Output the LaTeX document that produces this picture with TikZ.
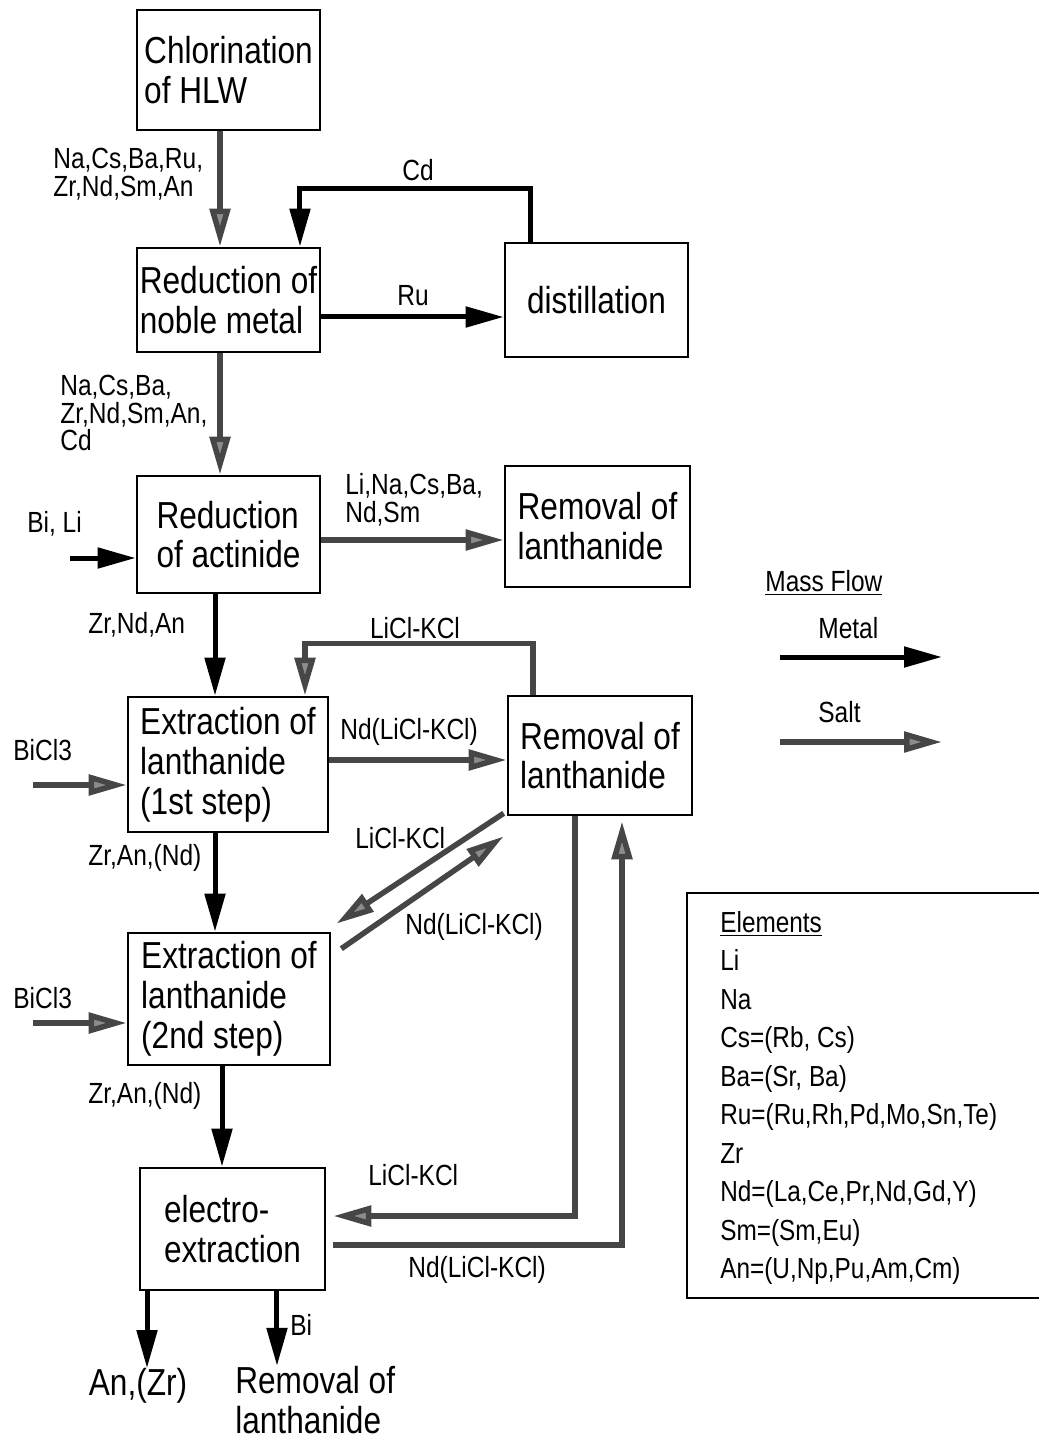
\documentclass[tikz,border=0pt]{standalone}
\usepackage{fontspec}
\setmainfont{Liberation Sans}[FakeStretch=0.84]
\usepackage{tikz}
\usetikzlibrary{arrows.meta}
\definecolor{saltline}{RGB}{70,70,70}
\definecolor{salthead}{RGB}{140,140,140}
\newcommand{\boxtxt}{\fontsize{21.4}{22.7}\selectfont}
\newcommand{\labtxt}{\fontsize{16.6}{15.9}\selectfont}
\newcommand{\legtxt}{\fontsize{16.5}{21.9}\selectfont}

\begin{document}
\begin{tikzpicture}[x=0.02cm, y=-0.02cm,
  box/.style={draw, line width=1.5pt, align=left, font=\boxtxt, inner sep=0pt},
  outtxt/.style={font=\boxtxt, align=left, inner sep=0pt},
  lab/.style={align=left, font=\labtxt, inner sep=0pt, anchor=west},
  metal/.style={line width=0.1cm, -{Triangle[length=0.76cm,width=0.4cm]}},
  salt/.style={line width=0.11cm, draw=saltline, -{Triangle[length=0.76cm,width=0.4cm,fill=salthead]}}]

\useasboundingbox (0,0) rectangle (1038,1442);

% process boxes
\node[box, minimum width=3.66cm, minimum height=2.4cm] (chlor) at (228.5,70) {Chlorination\\of HLW};
\node[box, minimum width=3.66cm, minimum height=2.08cm] (noble) at (228.5,300) {Reduction of\\noble metal};
\node[box, minimum width=3.66cm, minimum height=2.28cm] (distill) at (596.5,300) {distillation};
\node[box, minimum width=3.66cm, minimum height=2.34cm] (actinide) at (228.5,534.5) {Reduction\\of actinide};
\node[box, minimum width=3.7cm, minimum height=2.42cm] (rem1) at (597.5,526.5) {Removal of\\lanthanide};
\node[box, minimum width=4.0cm, minimum height=2.7cm] (ext1) at (228,764.5) {Extraction of\\lanthanide\\(1st step)};
\node[box, minimum width=3.68cm, minimum height=2.38cm] (rem2) at (600,755.5) {Removal of\\lanthanide};
\node[box, minimum width=4.04cm, minimum height=2.64cm] (ext2) at (229,999) {Extraction of\\lanthanide\\(2nd step)};
\node[box, minimum width=3.7cm, minimum height=2.44cm] (electro) at (232.5,1229) {electro-\\extraction};

\node[outtxt] (anz) at (138,1386) {An,(Zr)};
\node[outtxt, anchor=west] (remout) at (235,1400) {Removal of\\lanthanide};

\coordinate (bili) at (70,558);
\coordinate (bicl1) at (33,785);
\coordinate (bicl2) at (33,1023);

% flows
\draw[salt] ([xshift=-0.17cm]chlor.south) -- ([xshift=-0.17cm]noble.north);
\draw[metal] ([xshift=-1.33cm]distill.north) -- ++(0,-53) -| ([xshift=1.43cm]noble.north);
\draw[metal] ([yshift=-0.34cm]noble.east) -- ([yshift=-0.34cm]distill.west);
\draw[salt] ([xshift=-0.17cm]noble.south) -- ([xshift=-0.17cm]actinide.north);
\draw[metal] (bili) -- (bili -| actinide.west);
\draw[salt] ([yshift=-0.11cm]actinide.east) -- ([yshift=-0.11cm]actinide.east -| rem1.west);
\draw[metal] ([xshift=-0.27cm]actinide.south) -- ([xshift=-0.27cm]actinide.south |- ext1.north);
\draw[salt] ([xshift=-1.34cm]rem2.north) -- ++(0,-51) -| ([xshift=1.54cm]ext1.north);
\draw[salt] (bicl1) -- (bicl1 -| ext1.west);
\draw[salt] ([yshift=0.09cm]ext1.east) -- ([yshift=0.09cm]ext1.east -| rem2.west);
\draw[metal] ([xshift=-0.26cm]ext1.south) -- ([xshift=-0.26cm]ext1.south |- ext2.north);
\draw[salt] ([xshift=-0.06cm,yshift=0.06cm]rem2.south west) -- ([xshift=0.1cm,yshift=0.16cm]ext2.north east);
\draw[salt] ([xshift=0.2cm,yshift=-0.34cm]ext2.north east) -- ([xshift=-0.06cm,yshift=-0.4cm]rem2.south west);
\draw[salt] (bicl2) -- (bicl2 -| ext2.west);
\draw[metal] ([xshift=-0.14cm]ext2.south) -- ([xshift=-0.14cm]ext2.south |- electro.north);
\draw[salt] ([xshift=-0.5cm]rem2.south) |- ([xshift=0.14cm,yshift=0.26cm]electro.east);
\draw[salt] ([xshift=0.14cm,yshift=-0.32cm]electro.east) -| ([xshift=0.44cm,yshift=-0.1cm]rem2.south);
\draw[metal] ([xshift=-1.71cm]electro.south) -- ([xshift=-1.71cm]electro.south |- anz.north);
\draw[metal] ([xshift=0.89cm]electro.south) -- ([xshift=0.89cm]electro.south |- remout.north);

% flow labels
\node[lab] (lchl) at (53,174) {Na,Cs,Ba,Ru,\\Zr,Nd,Sm,An};
\node[lab, anchor=center] (lcd) at (418,170) {Cd};
\node[lab, anchor=center] (lru) at (413,296) {Ru};
\node[lab] (lnob) at (60,413) {Na,Cs,Ba,\\Zr,Nd,Sm,An,\\Cd};
\node[lab] (lbili) at (27,524) {Bi, Li};
\node[lab] (lact) at (345,500) {Li,Na,Cs,Ba,\\Nd,Sm};
\node[lab] (lzna) at (88,625) {Zr,Nd,An};
\node[lab, anchor=center] (lloop) at (415,628) {LiCl-KCl};
\node[lab] (lbi1) at (13,750) {BiCl3};
\node[lab] (lnd1) at (340,732) {Nd(LiCl-KCl)};
\node[lab] (lzan1) at (88,858) {Zr,An,(Nd)};
\node[lab] (lli2) at (355,838) {LiCl-KCl};
\node[lab] (lnd2) at (405,927) {Nd(LiCl-KCl)};
\node[lab] (lbi2) at (13,998) {BiCl3};
\node[lab] (lzan2) at (88,1096) {Zr,An,(Nd)};
\node[lab] (lli3) at (368,1175) {LiCl-KCl};
\node[lab] (lnd3) at (408,1270) {Nd(LiCl-KCl)};
\node[lab] (lbi) at (290,1325) {Bi};

% legend
\node[lab] (mflow) at (765,583) {\underline{Mass Flow}};
\node[lab] (lmet) at (818,628) {Metal};
\coordinate (metA) at (780,657);
\coordinate (metB) at (942,657);
\draw[metal] (metA) -- (metB);
\node[lab] (lsalt) at (818,712) {Salt};
\coordinate (saltA) at (780,742);
\coordinate (saltB) at (942,742);
\draw[salt] (saltA) -- (saltB);

\node[lab, font=\legtxt, anchor=north west] (elems) at (720,911)
  {\underline{Elements}\\Li\\Na\\Cs=(Rb, Cs)\\Ba=(Sr, Ba)\\Ru=(Ru,Rh,Pd,Mo,Sn,Te)\\Zr\\Nd=(La,Ce,Pr,Nd,Gd,Y)\\Sm=(Sm,Eu)\\An=(U,Np,Pu,Am,Cm)};
\draw[line width=1.5pt] (1040,893) -| (687,1298) -- (1040,1298);

\end{tikzpicture}
\end{document}
